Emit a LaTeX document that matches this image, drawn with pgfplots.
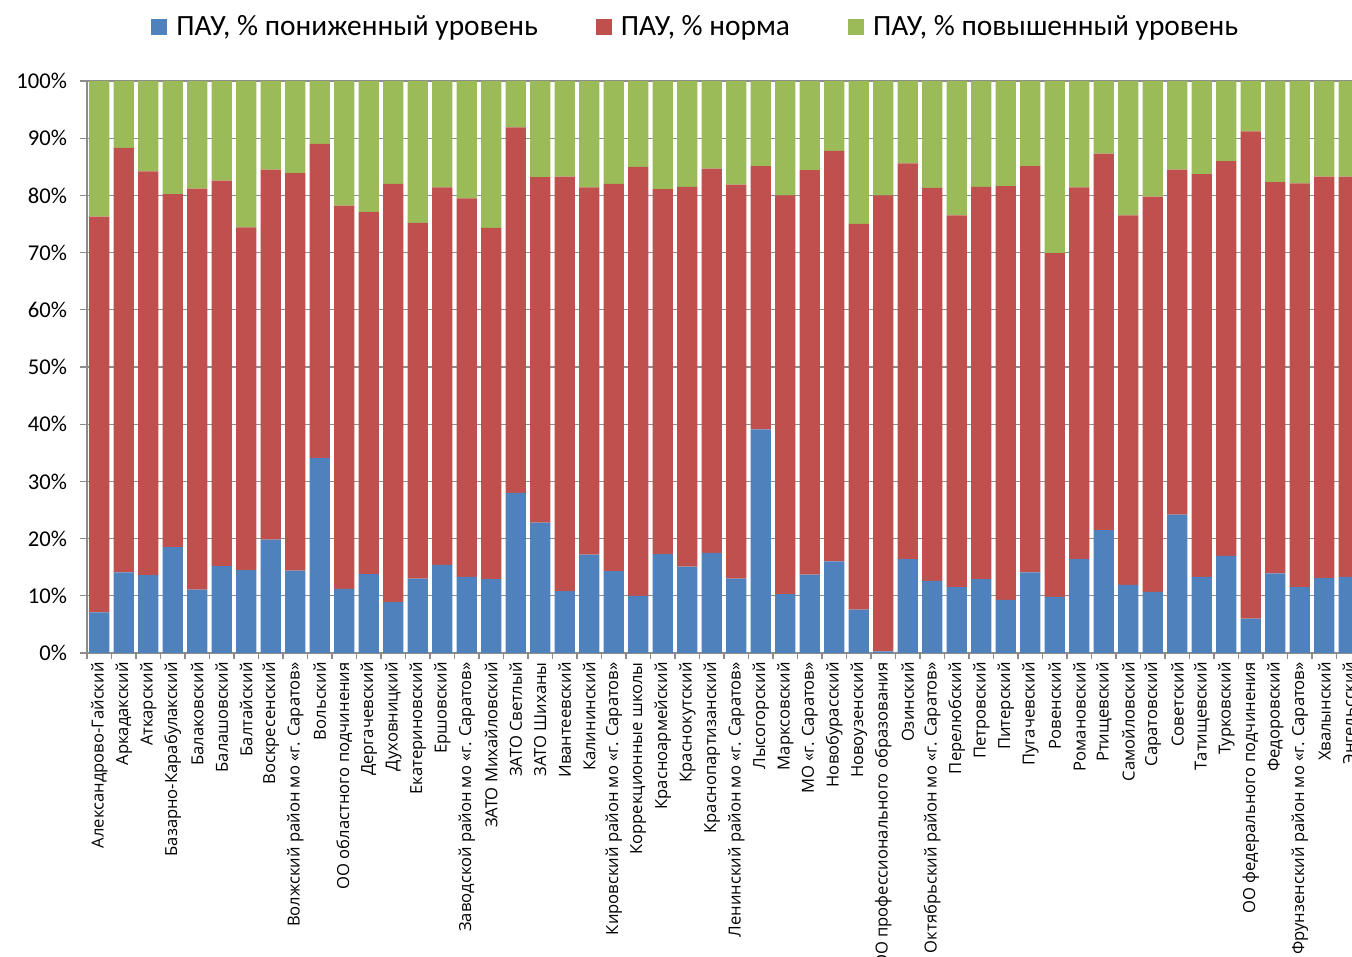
\documentclass[border=0pt]{standalone}
\usepackage{fontspec}
\setmainfont{Carlito}
\newfontfamily\osans{Open Sans}
\usepackage{pgfplots}
\usepackage{pgfplotstable}
\pgfplotsset{compat=1.18}
\definecolor{cblue}{HTML}{4F81BD}
\definecolor{cred}{HTML}{C0504D}
\definecolor{cgreen}{HTML}{9BBB59}
\definecolor{cgrid}{HTML}{8C8C8C}
\pgfplotstableread{
x low norm high
0 7.1 69.2 23.7
1 14.1 74.2 11.7
2 13.6 70.6 15.8
3 18.5 61.7 19.8
4 11.1 70.1 18.8
5 15.2 67.4 17.4
6 14.5 59.9 25.6
7 19.8 64.7 15.5
8 14.4 69.5 16.1
9 34.1 54.9 11.0
10 11.2 67.0 21.8
11 13.8 63.3 22.9
12 8.9 73.1 18.0
13 13.0 62.2 24.8
14 15.4 66.0 18.6
15 13.3 66.2 20.5
16 12.9 61.4 25.7
17 28.0 63.9 8.1
18 22.8 60.4 16.8
19 10.8 72.5 16.7
20 17.2 64.2 18.6
21 14.3 67.7 18.0
22 10.0 75.0 15.0
23 17.3 63.8 18.9
24 15.1 66.4 18.5
25 17.5 67.2 15.3
26 13.0 68.9 18.1
27 39.1 46.0 14.9
28 10.3 69.7 20.0
29 13.7 70.7 15.6
30 16.0 71.8 12.2
31 7.6 67.4 25.0
32 0.3 79.7 20.0
33 16.4 69.2 14.4
34 12.6 68.7 18.7
35 11.5 65.0 23.5
36 12.9 68.6 18.5
37 9.3 72.3 18.4
38 14.1 71.0 14.9
39 9.8 60.1 30.1
40 16.4 65.0 18.6
41 21.5 65.8 12.7
42 11.9 64.6 23.5
43 10.7 69.1 20.2
44 24.2 60.3 15.5
45 13.3 70.4 16.3
46 17.0 69.0 14.0
47 6.0 85.2 8.8
48 13.9 68.4 17.7
49 11.5 70.6 17.9
50 13.1 70.2 16.7
51 13.3 70.0 16.7
}\datatable
\begin{document}
\begin{tikzpicture}
\begin{axis}[
  name=ax,
  scale only axis,
  width=632.5pt, height=286pt,
  ybar stacked,
  bar width=0.83,
  xmin=-0.5, xmax=51.13,
  ymin=0, ymax=100,
  axis x line*=bottom,
  axis y line*=left,
  axis line style={cgrid, line width=0.6pt},
  xtick={0,...,51},
  minor xtick={-0.5,0.5,...,51.5},
  major x tick style={draw=none},
  minor x tick style={cgrid, line width=0.6pt},
  minor tick length=3pt,
  major tick length=3.5pt,
  tick align=outside,
  ytick={0,10,...,100},
  y tick style={cgrid, line width=0.6pt},
  ymajorgrids,
  grid style={cgrid, line width=0.6pt},
  yticklabel={\pgfmathprintnumber{\tick}\%},
  /pgf/number format/assume math mode=true,
  yticklabel style={font=\fontsize{11.3}{13}\selectfont, xshift=-3pt},
  xticklabels={Александрово-Гайский,Аркадакский,Аткарский,Базарно-Карабулакский,Балаковский,Балашовский,Балтайский,Воскресенский,Волжский район мо «г. Саратов»,Вольский,ОО областного подчинения,Дергачевский,Духовницкий,Екатериновский,Ершовский,Заводской район мо «г. Саратов»,ЗАТО Михайловский,ЗАТО Светлый,ЗАТО Шиханы,Ивантеевский,Калининский,Кировский район мо «г. Саратов»,Коррекционные школы,Красноармейский,Краснокутский,Краснопартизанский,Ленинский район мо «г. Саратов»,Лысогорский,Марксовский,МО «г. Саратов»,Новобурасский,Новоузенский,ОО профессионального образования,Озинский,Октябрьский район мо «г. Саратов»,Перелюбский,Петровский,Питерский,Пугачевский,Ровенский,Романовский,Ртищевский,Самойловский,Саратовский,Советский,Татищевский,Турковский,ОО федерального подчинения,Федоровский,Фрунзенский район мо «г. Саратов»,Хвалынский,Энгельсский},
  xticklabel style={font=\osans\fontsize{8.3}{9}\selectfont, rotate=90, anchor=east, inner sep=1pt},
  legend columns=3,
  legend style={draw=none, at={(0.482,1.0944)}, anchor=center,
    font=\fontsize{14.7}{16}\selectfont,
    /tikz/every odd column/.append style={column sep=2.5pt},
    /tikz/every even column/.append style={column sep=27pt}},
  legend image code/.code={\fill[#1] (0pt,-4pt) rectangle (8pt,4pt);},
]
\addplot[fill=cblue, draw=none] table[x=x, y=low] {\datatable};
\addlegendentry{ПАУ, \% пониженный уровень}
\addplot[fill=cred, draw=none] table[x=x, y=norm] {\datatable};
\addlegendentry{ПАУ, \% норма}
\addplot[fill=cgreen, draw=none] table[x=x, y=high] {\datatable};
\addlegendentry{ПАУ, \% повышенный уровень}
\end{axis}
\pgfresetboundingbox
\path[use as bounding box] ([xshift=-43.5pt,yshift=-152pt]ax.south west) rectangle ([yshift=40.5pt]ax.north east);
\end{tikzpicture}
\end{document}
